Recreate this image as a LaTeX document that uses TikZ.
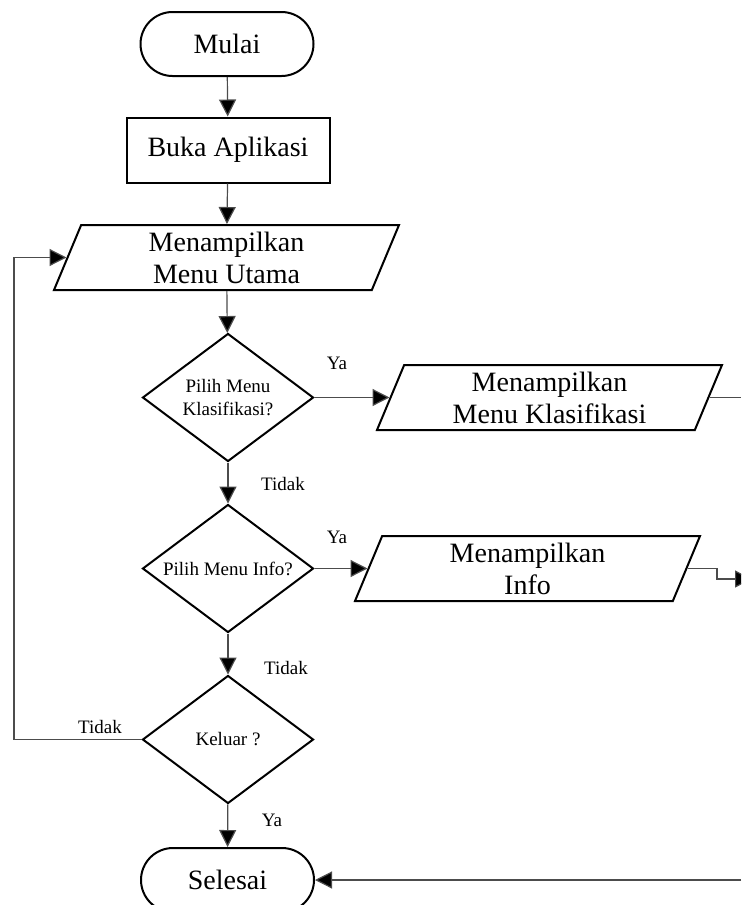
\documentclass[tikz,border=0pt]{standalone}
\usepackage{fontspec}
\setmainfont{Liberation Serif}
\usetikzlibrary{arrows.meta,positioning,shapes.geometric}

\begin{document}
\begin{tikzpicture}[
      x=0.5pt, y=-0.5pt,
      terminal/.style={
        rectangle,
        rounded corners=16pt,
        draw,
        line width=1pt,
        minimum width=86.5pt,
        minimum height=32pt,
        font=\fontsize{14}{16}\selectfont
      },
      proses/.style={
        rectangle,
        draw,
        line width=1pt,
        minimum width=101.5pt,
        minimum height=32.5pt,
        font=\fontsize{14}{16}\selectfont
      },
      data/.style={
        trapezium,
        trapezium left angle=64,
        trapezium right angle=116,
        trapezium stretches body,
        draw,
        line width=1pt,
        minimum width=172.5pt,
        minimum height=32.5pt,
        inner sep=1pt,
        align=center,
        font=\fontsize{14}{16}\selectfont
      },
      cek/.style={
        diamond,
        draw,
        line width=1pt,
        shape aspect=1.34,
        minimum width=85.5pt,
        minimum height=64pt,
        inner sep=0pt,
        align=center,
        font=\fontsize{9.5}{11.5}\selectfont
      },
      ket/.style={
        font=\fontsize{9.5}{11.5}\selectfont
      },
      panah/.style={
        draw=black!70,
        line width=0.6pt,
        -{Triangle[length=8.5pt,width=8.5pt,fill=black]}
      },
      garis/.style={draw=black!70, line width=0.6pt}
    ]

    \useasboundingbox (0,0) rectangle (741,905);
    \clip (0,0) rectangle (741,905);

    % Main column
    \node[terminal] (mulai) at (227,44) {Mulai};
    \node[proses] (buka) at (228,150) {Buka Aplikasi};
    \node[data] (utama) at (226.5,257.5) {Menampilkan\\Menu Utama};
    \node[cek] (cek1) at (228,397.5) {Pilih Menu\\Klasifikasi?};
    \node[cek] (cek2) at (228,568.5) {Pilih Menu Info?};
    \node[cek] (cek3) at (228,739.5) {Keluar ?};
    \node[terminal] (selesai) at (227.5,880) {Selesai};

    % Right column
    \node[data] (klas) at (549.5,397.5) {Menampilkan\\Menu Klasifikasi};
    \node[data] (info) at (527.5,568.5) {Menampilkan\\Info};

    % Free ends at the edges
    \coordinate (kiri) at (14,0);
    \coordinate (ujung1) at (741,397.5);
    \coordinate (belok) at (717,579);
    \coordinate (ujung2) at (752,579);
    \coordinate (ujung3) at (741,880);

    % Edges
    \draw[panah] (mulai) -- (buka);
    \draw[panah] (buka) -- (utama);
    \draw[panah] (utama) -- (cek1);
    \draw[panah] (cek1) -- (cek2);
    \draw[panah] (cek2) -- (cek3);
    \draw[panah] (cek3) -- (selesai);
    \draw[panah] (cek1.east) -- (klas.left side);
    \draw[panah] (cek2.east) -- (info.left side);
    \draw[panah] (cek3.west) -- (cek3.west -| kiri) |- (utama.left side);
    \draw[garis] (klas.right side) -- (ujung1);
    \draw[panah] (info.right side) -| (belok) -- (ujung2);
    \draw[panah] (ujung3) -- (selesai.east);

    % Labels
    \node[ket] (ya1) at (337,363) {Ya};
    \node[ket] (tidak1) at (283,484) {Tidak};
    \node[ket] (ya2) at (337,537) {Ya};
    \node[ket] (tidak2) at (286,668) {Tidak};
    \node[ket] (tidak3) at (100,727) {Tidak};
    \node[ket] (ya3) at (272,820) {Ya};

    \end{tikzpicture}
\end{document}
